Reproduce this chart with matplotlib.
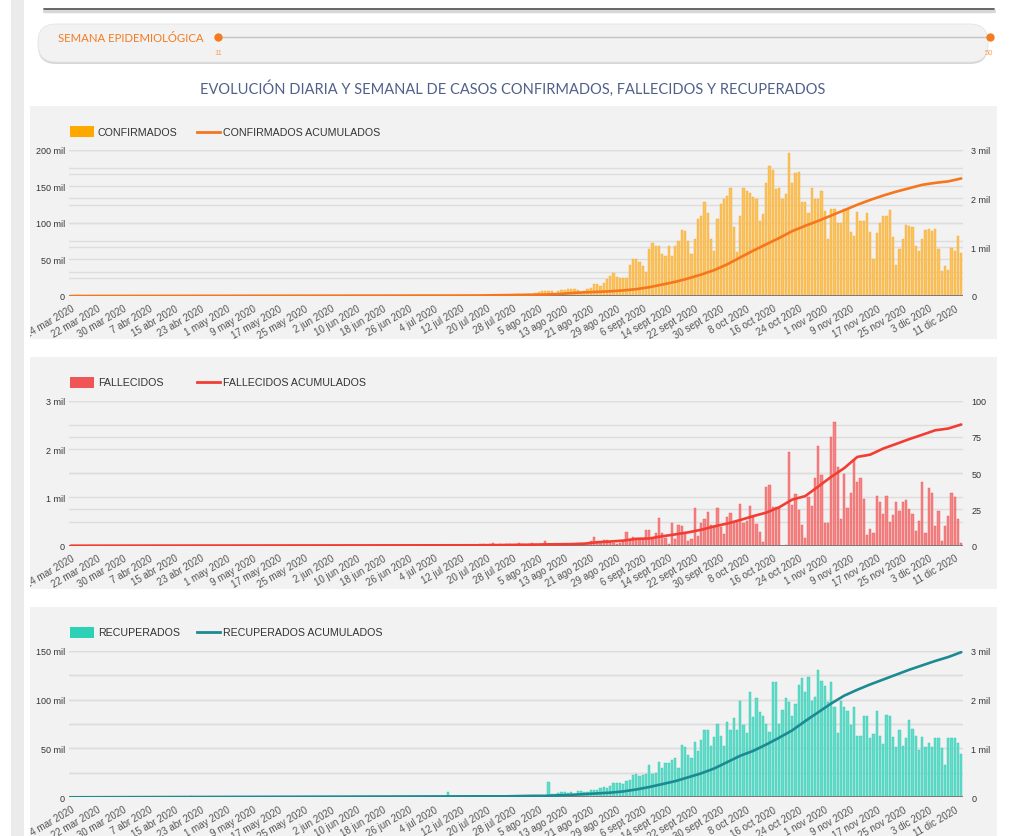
import numpy as np
import matplotlib.pyplot as plt
from matplotlib.patches import Rectangle, FancyBboxPatch

plt.rcParams['font.family'] = ['Liberation Sans', 'DejaVu Sans']

W, H = 1010, 837

# x axis: days counted from 14 mar 2020, one label every 8 days
tick_labels = ['14 mar 2020', '22 mar 2020', '30 mar 2020', '7 abr 2020', '15 abr 2020', '23 abr 2020',
               '1 may 2020', '9 may 2020', '17 may 2020', '25 may 2020', '2 jun 2020', '10 jun 2020',
               '18 jun 2020', '26 jun 2020', '4 jul 2020', '12 jul 2020', '20 jul 2020', '28 jul 2020',
               '5 ago 2020', '13 ago 2020', '21 ago 2020', '29 ago 2020', '6 sept 2020', '14 sept 2020',
               '22 sept 2020', '30 sept 2020', '8 oct 2020', '16 oct 2020', '24 oct 2020', '1 nov 2020',
               '9 nov 2020', '17 nov 2020', '25 nov 2020', '3 dic 2020', '11 dic 2020']
LAST_DAY = 274          # 13 dic 2020
FIRST_BAR_DAY = 126     # 18 jul 2020

# daily values from 18 jul 2020 to 13 dic 2020 (thousands)
confirmados = [0.8, 0.9, 1.0, 1.0, 1.2, 1.0, 1.2, 1.3,
               1.1, 1.5, 1.8, 2.8, 2.5, 1.6, 2.6, 2.8,
               2.4, 3.8, 5.5, 6.5, 7.0, 6.8, 7.2, 4.2,
               7.5, 8.5, 8.2, 9.2, 9.8, 9.5, 8.5, 6.0,
               7.5, 10, 11, 17, 17, 14, 18, 23,
               27, 32, 26, 24, 24, 24, 43, 50,
               50, 47, 41, 33, 64, 72, 68, 68,
               58, 55, 69, 55, 69, 75, 90, 89,
               75, 57, 78, 105, 110, 128, 114, 78,
               62, 105, 126, 133, 137, 148, 95, 60,
               110, 147, 144, 141, 135, 132, 103, 112,
               154, 178, 172, 146, 147, 132, 139, 196,
               155, 168, 169, 129, 128, 114, 148, 132,
               133, 144, 116, 78, 119, 119, 100, 100,
               119, 119, 87, 82, 115, 103, 103, 113,
               87, 50, 86, 100, 109, 110, 118, 80,
               42, 64, 78, 97, 96, 94, 68, 62,
               78, 90, 91, 89, 91, 64, 34, 41,
               35, 66, 62, 82, 59]

fallecidos = [0.03, 0.03, 0.02, 0.03, 0.05, 0.02, 0.03, 0.02,
              0.03, 0.03, 0.02, 0.03, 0.05, 0.03, 0.02, 0.03,
              0.05, 0.03, 0.02, 0.03, 0.10, 0.03, 0.04, 0.03,
              0.04, 0.03, 0.04, 0.04, 0.03, 0.04, 0.05, 0.06,
              0.05, 0.06, 0.10, 0.19, 0.05, 0.08, 0.12, 0.12,
              0.08, 0.06, 0.04, 0.05, 0.10, 0.29, 0.14, 0.19,
              0.16, 0.16, 0.12, 0.32, 0.32, 0.14, 0.26, 0.57,
              0.26, 0.16, 0.03, 0.46, 0.14, 0.43, 0.40, 0.29,
              0.09, 0.14, 0.79, 0.21, 0.47, 0.55, 0.70, 0.43,
              0.41, 0.77, 0.38, 0.24, 0.60, 0.67, 0.48, 0.50,
              0.86, 0.48, 0.52, 0.83, 0.59, 0.45, 0.28, 0.08,
              1.21, 1.25, 0.80, 0.80, 0.78, 0.0, 0.02, 1.94,
              0.85, 1.06, 0.73, 0.43, 0.16, 1.00, 0.82, 1.40,
              2.06, 1.47, 0.48, 0.48, 2.24, 2.55, 1.63, 0.55,
              1.49, 0.78, 1.10, 1.78, 1.32, 1.41, 0.97, 0.22,
              0.34, 0.27, 1.03, 0.90, 0.65, 1.03, 0.49, 0.63,
              0.90, 0.71, 0.90, 0.94, 0.75, 0.65, 0.30, 0.51,
              1.32, 0.27, 1.20, 1.10, 0.41, 0.71, 0.10, 0.41,
              0.62, 1.10, 1.01, 0.56, 0.05]

recuperados = [0.4, 0.5, 0.4, 0.5, 0.6, 0.5, 0.4, 0.5,
               0.6, 0.5, 0.5, 0.6, 0.7, 0.6, 0.5, 0.6,
               0.7, 0.6, 0.7, 0.8, 0.7, 15.3, 3.0, 3.0,
               4.4, 5.0, 5.0, 4.4, 5.8, 3.8, 6.8, 6.8,
               5.8, 5.8, 7.8, 7.8, 7.8, 9.5, 10.2, 9.5,
               11.9, 14.7, 14.7, 14.7, 13.6, 17.0, 18.0, 22.8,
               23.5, 22.2, 22.8, 23.9, 33.0, 24.2, 24.9, 35.8,
               29.7, 34.8, 34.8, 38.5, 39.9, 29.7, 53.5, 51.1,
               43.3, 39.9, 56.3, 47.7, 59.0, 69.2, 68.9, 52.2,
               61.4, 75.0, 63.0, 52.9, 76.7, 69.2, 80.8, 69.2,
               98.9, 74.3, 65.8, 108.0, 81.8, 101.6, 86.9, 83.5,
               75.0, 66.5, 118.3, 118.3, 75.0, 89.7, 101.3, 97.9,
               82.9, 95.5, 114.9, 121.7, 108.0, 123.4, 98.9, 102.3,
               130.6, 119.3, 114.2, 97.2, 118.3, 92.1, 65.8, 98.9,
               92.1, 88.6, 74.0, 92.0, 63.0, 63.0, 82.9, 82.9,
               60.3, 64.8, 88.6, 63.0, 54.5, 84.6, 82.9, 61.4,
               51.1, 69.2, 52.9, 60.3, 79.4, 69.9, 63.0, 48.8,
               62.0, 51.8, 55.2, 51.8, 60.7, 60.3, 50.4, 33.0,
               60.3, 60.3, 60.3, 55.5, 44.3]
# 14 mar .. 17 jul: only two small visible bars
recuperados_previos = [0.0] * 37 + [1.0] + [0.0] * 78 + [5.0] + [0.0] * 9

# accumulated series, read every 4 days (plus 14 mar)
acum_days = [0] + list(range(FIRST_BAR_DAY, LAST_DAY + 1, 4))
confirmados_acum = [0.0, 0.01, 0.015, 0.018, 0.022, 0.026, 0.03, 0.04, 0.06, 0.075, 0.085, 0.097, 0.115,
                    0.14, 0.18, 0.235, 0.29, 0.36, 0.44, 0.53, 0.65, 0.79, 0.93, 1.06, 1.19, 1.33, 1.44,
                    1.54, 1.65, 1.76, 1.87, 1.97, 2.06, 2.14, 2.21, 2.28, 2.32, 2.35, 2.41]
fallecidos_acum = [0.0, 0.3, 0.4, 0.5, 0.6, 0.7, 0.9, 1.0, 1.1, 1.4, 2.4, 2.9, 3.5, 4.7, 5.0, 6.5, 7.8,
                   9.2, 11.0, 13.3, 15.3, 17.7, 20.4, 22.8, 26.5, 31.8, 34.2, 40.8, 47.5, 53.5, 61.2,
                   62.8, 67.0, 70.2, 73.5, 76.5, 79.6, 80.8, 83.6]
recuperados_acum = [0.0, 0.02, 0.02, 0.02, 0.025, 0.03, 0.03, 0.04, 0.05, 0.065, 0.08, 0.095, 0.12,
                    0.16, 0.21, 0.27, 0.33, 0.41, 0.49, 0.59, 0.72, 0.85, 0.95, 1.08, 1.22, 1.37, 1.56,
                    1.74, 1.92, 2.08, 2.20, 2.31, 2.41, 2.51, 2.61, 2.70, 2.79, 2.87, 2.97]

PANELS = [
    dict(name='CONFIRMADOS', daily=confirmados, early=None, acum=confirmados_acum,
         bar='#fbc35e', bar_edge='#f8aa2c', legend='#ffa800', line='#f5761c',
         left=(200, 25, 50, True), right=(3, 0.5, 1, True),
         box=(107, 340), axes=(150.7, 297.0), legend_y=132.7),
    dict(name='FALLECIDOS', daily=fallecidos, early=None, acum=fallecidos_acum,
         bar='#f58484', bar_edge='#ef5555', legend='#f05454', line='#f23d33',
         left=(3, 0.5, 1, True), right=(100, 25, 25, False),
         box=(358, 590), axes=(401.7, 546.7), legend_y=383.3),
    dict(name='RECUPERADOS', daily=recuperados, early=recuperados_previos, acum=recuperados_acum,
         bar='#63dccb', bar_edge='#2ccbb2', legend='#2dd1b5', line='#1b8a92',
         left=(150, 25, 50, True), right=(3, 0.5, 1, True),
         box=(608, 837), axes=(651.7, 798.3), legend_y=633.3),
]


def fmt(v, mil):
    if v == 0:
        return '0'
    return f'{v:g} mil' if mil else f'{v:g}'


fig = plt.figure(figsize=(W / 100, H / 100), dpi=100)
bg = fig.add_axes([0, 0, 1, 1], zorder=0)
bg.set_xlim(0, W)
bg.set_ylim(H, 0)
bg.axis('off')

# page decorations
bg.add_patch(Rectangle((11, 0), 13, H, color='#ebebeb', lw=0))
bg.plot([44, 994], [12, 12], color='#d8d8d8', lw=2.5, solid_capstyle='round')
bg.plot([44, 994], [10, 10], color='#5a5a5a', lw=1.3, solid_capstyle='round')

bg.add_patch(FancyBboxPatch((38, 27), 950, 38, boxstyle='round,pad=0,rounding_size=18',
                            fc='#d6d6d6', ec='none'))
bg.add_patch(FancyBboxPatch((38, 25), 950, 38, boxstyle='round,pad=0,rounding_size=18',
                            fc='#f2f2f2', ec='#e4e4e4', lw=0.6))
bg.text(58, 38.5, 'SEMANA EPIDEMIOLÓGICA', fontsize=8.2, color='#f47b20', va='center',
        family=['Lato', 'DejaVu Sans'])
bg.plot([218, 990], [38, 38], color='#c4c4c4', lw=1)
bg.plot([218, 990], [38, 38], 'o', color='#f47b20', ms=5)
bg.text(218, 53, '11', fontsize=5.5, color='#f4a060', ha='center', va='center')
bg.text(989, 53, '50', fontsize=5.5, color='#f4a060', ha='center', va='center')

bg.text(513, 89, 'EVOLUCIÓN DIARIA Y SEMANAL DE CASOS CONFIRMADOS, FALLECIDOS Y RECUPERADOS',
        fontsize=10.5, color='#50608a', ha='center', va='center', family=['Lato', 'DejaVu Sans'])

x_left, x_right = 69.1, 962.85

for p in PANELS:
    y0, y1 = p['box']
    panel_bg = Rectangle((30, y0), 967, y1 - y0, color='#f2f2f2', lw=0)
    bg.add_patch(panel_bg)

    # legend
    ly = p['legend_y']
    bg.add_patch(Rectangle((70, ly - 5.5), 24, 11, color=p['legend'], lw=0))
    bg.text(98, ly, p['name'], fontsize=7.7, color='#333333', va='center')
    bg.plot([197, 220], [ly, ly], color=p['line'], lw=2)
    bg.text(223, ly, p['name'] + ' ACUMULADOS', fontsize=7.7, color='#333333', va='center')

    top, bottom = p['axes']
    ax = fig.add_axes([x_left / W, 1 - bottom / H, (x_right - x_left) / W, (bottom - top) / H], zorder=1)
    ax.set_facecolor('none')
    ax2 = ax.twinx()
    ax2.set_zorder(2)

    lmax, lgrid, llab, lmil = p['left']
    rmax, rgrid, rlab, rmil = p['right']
    ax.set_ylim(0, lmax)
    ax2.set_ylim(0, rmax)

    # grid lines of both axes, drawn behind the bars
    for v in np.arange(lgrid, lmax + 1e-9, lgrid):
        ax.axhline(v, color='#dddddd', lw=1, zorder=0)
    for v in np.arange(rgrid, rmax + 1e-9, rgrid):
        ax.axhline(v * lmax / rmax, color='#dddddd', lw=1, zorder=0)

    days = np.arange(FIRST_BAR_DAY, FIRST_BAR_DAY + len(p['daily']))
    ax.bar(days, p['daily'], width=0.72, color=p['bar'], edgecolor=p['bar_edge'], lw=0.3, zorder=2)
    if p['early'] is not None:
        early_days = np.arange(0, len(p['early']))
        ax.bar(early_days, p['early'], width=0.72, color=p['bar'], edgecolor=p['bar_edge'], lw=0.3, zorder=2)
    ax.axhline(0, color='#7a7a7a', lw=1.4, zorder=3)

    ax2.plot(acum_days, p['acum'], color=p['line'], lw=1.9, solid_capstyle='round')

    ax.set_xlim(-0.5, LAST_DAY + 0.5)
    ax.set_xticks(range(0, LAST_DAY, 8))
    ax.set_xticklabels(tick_labels, rotation=30, ha='right', rotation_mode='anchor',
                       fontsize=7, color='#555555')
    ax.tick_params(axis='x', length=0, pad=5)
    for lbl in ax.get_xticklabels():
        lbl.set_clip_path(panel_bg)

    lticks = np.arange(0, lmax + 1e-9, llab)
    ax.set_yticks(lticks)
    ax.set_yticklabels([fmt(v, lmil) for v in lticks])
    ax.tick_params(axis='y', length=0, pad=3, labelsize=6.5, labelcolor='#333333')

    rticks = np.arange(0, rmax + 1e-9, rlab)
    ax2.set_yticks(rticks)
    ax2.set_yticklabels([fmt(v, rmil) for v in rticks])
    ax2.tick_params(axis='y', length=0, pad=6, labelsize=6.5, labelcolor='#333333')

    for a in (ax, ax2):
        for s in a.spines.values():
            s.set_visible(False)

fig.savefig('out.png', dpi=100, facecolor='white')
